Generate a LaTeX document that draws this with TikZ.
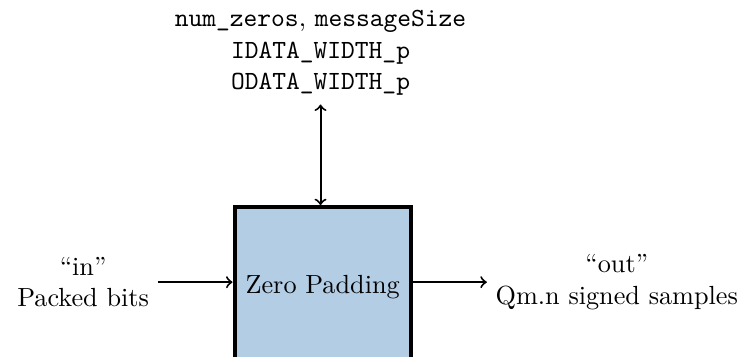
\documentclass[tikz,border=0pt]{standalone}
\usepackage{tikz}
\usetikzlibrary{positioning}
\definecolor{padblue}{RGB}{179,205,228}

\begin{document}
\begin{tikzpicture}[every node/.style={font=\fontsize{10.5pt}{12.6pt}\selectfont}]
            \useasboundingbox (-4.54,-1.04) rectangle (5.90,3.97);
            \node[draw=black, ultra thick, fill=padblue, minimum width=2.48cm, minimum height=2.25cm] (pad) at (0,-0.07) {Zero Padding};

            \node[align=center, anchor=east] (in) at (-2.32,0) {``in''\\Packed bits};
            \node[align=center, anchor=west] (out) at (2.31,0) {``out''\\Qm.n signed samples};
            \node[align=center, anchor=south] (param) at (-0.03,2.50) {\texttt{num\_zeros}, \texttt{messageSize}\\\texttt{IDATA\_WIDTH\_p}\\\texttt{ODATA\_WIDTH\_p}};

            \draw[thick, ->] (in.east) -- (in.east -| pad.west);
            \draw[thick, ->] (out.west -| pad.east) -- (out.west);
            \draw[thick, <->] (param.south) -- (param.south |- pad.north);
        \end{tikzpicture}
\end{document}
